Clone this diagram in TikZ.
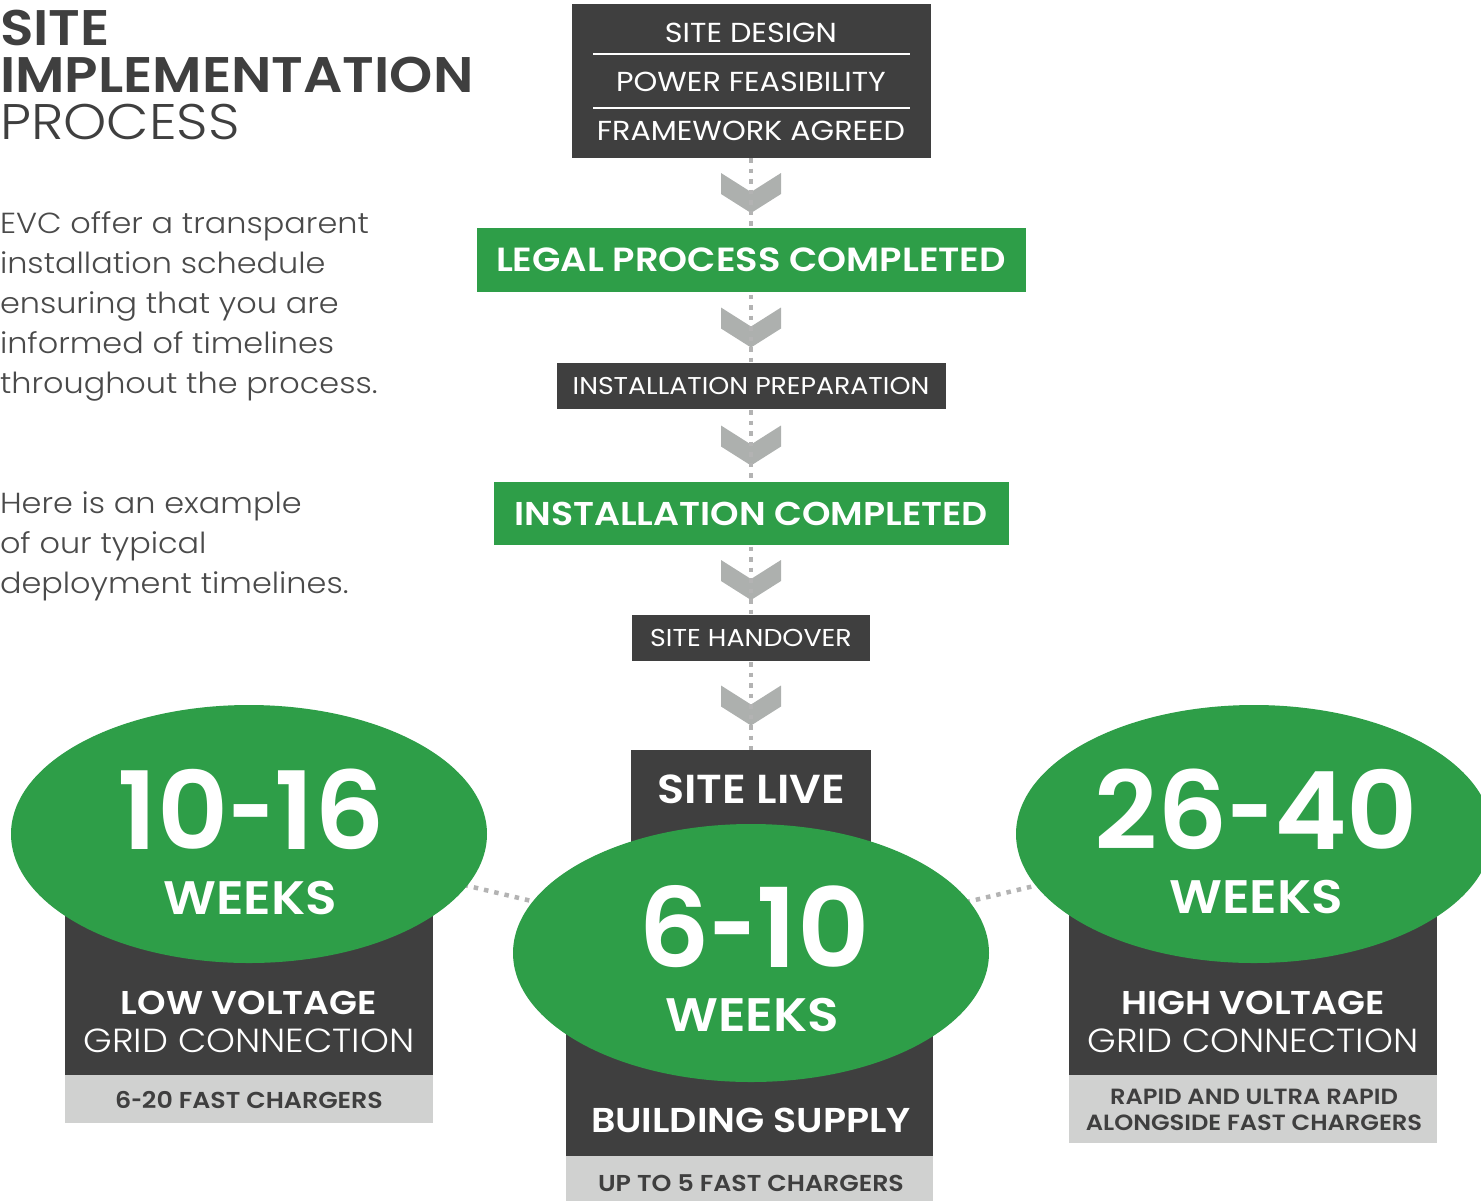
\documentclass[tikz,border=0pt]{standalone}
\usepackage{fontspec}
\setmainfont{Poppins}
\newfontfamily\preg{Poppins}[FakeStretch=1.1]
\newfontfamily\plight{Poppins Light}[FakeStretch=1.1]
\newfontfamily\psemi{Poppins SemiBold}[FakeStretch=1.1]
\newfontfamily\pnum{Poppins SemiBold}[FakeStretch=1.02]
\usetikzlibrary{shapes.geometric,calc,backgrounds}
\definecolor{dk}{HTML}{3F3F3F}
\definecolor{gn}{HTML}{2E9E48}
\definecolor{lg}{HTML}{D0D1D0}
\definecolor{chevc}{HTML}{ADB0AE}
\definecolor{dotc}{HTML}{B3B3B3}
\definecolor{para}{HTML}{4A4A4A}
\newcommand\fsz[1]{\fontsize{#1}{#1}\selectfont}
\newcommand\nh{\scalebox{0.72}[1]{-}}
\begin{document}
\begin{tikzpicture}[x=1pt,y=-1pt,
  box/.style={rectangle, inner sep=0pt, outer sep=0pt, draw=none},
  darkbox/.style={box, fill=dk, text=white},
  greenbox/.style={box, fill=gn, text=white},
  greybox/.style={box, fill=lg, text=dk},
  bigell/.style={ellipse, fill=gn, draw=none, minimum width=476pt, minimum height=258pt, inner sep=0pt, outer sep=0pt},
  lbl/.style={inner sep=0pt, outer sep=0pt, text=white},
  glbl/.style={inner sep=0pt, outer sep=0pt, text=dk, font=\psemi\fsz{23}},
  ttl/.style={anchor=base west, inner sep=0pt, outer sep=0pt, text=dk},
  ptxt/.style={anchor=base west, inner sep=0pt, outer sep=0pt, text=para, font=\plight\fsz{29}},
  dotline/.style={draw=dotc, line width=4.5pt, dash pattern=on 4.5pt off 6pt},
  chev/.pic={\fill[chevc] (-30,-20) -- (0,-1) -- (30,-20) -- (30,1) -- (0,20) -- (-30,1) -- cycle;}
]
\useasboundingbox (0,0) rectangle (1481,1200);

% left title and text
\node[ttl, font=\psemi\fsz{50}] (ti1) at (0,45) {SITE};
\node[ttl, font=\psemi\fsz{50}] (ti2) at (0,92) {IMPLEMENTATION};
\node[ttl, font=\plight\fsz{50}] (ti3) at (0,139) {PROCESS};
\node[ptxt] (p1) at (0,233) {EVC offer a transparent};
\node[ptxt] (p2) at (0,273) {installation schedule};
\node[ptxt] (p3) at (0,313) {ensuring that you are};
\node[ptxt] (p4) at (0,353) {informed of timelines};
\node[ptxt] (p5) at (0,393) {throughout the process.};
\node[ptxt] (q1) at (0,513) {Here is an example};
\node[ptxt] (q2) at (0,553) {of our typical};
\node[ptxt] (q3) at (0,593) {deployment timelines.};

% central flow
\node[darkbox, minimum width=359pt, minimum height=154pt] (top) at (751,81) {};
\node[lbl, font=\preg\fsz{27.5}] (t1) at (751,33) {SITE DESIGN};
\node[lbl, font=\preg\fsz{27.5}] (t2) at (751,82) {POWER FEASIBILITY};
\node[lbl, font=\preg\fsz{27.5}] (t3) at (751,130.5) {FRAMEWORK AGREED};
\draw[white, line width=2pt] (593,54) -- (910,54);
\draw[white, line width=2pt] (593,108) -- (910,108);

\node[greenbox, minimum width=549pt, minimum height=64pt, font=\psemi\fsz{33.5}] (legal) at (751,260) {LEGAL PROCESS COMPLETED};
\node[darkbox, minimum width=389pt, minimum height=46pt, font=\preg\fsz{24.3}] (prep) at (751,386) {INSTALLATION PREPARATION};
\node[greenbox, minimum width=515pt, minimum height=63pt, font=\psemi\fsz{33}] (done) at (751,513.5) {INSTALLATION COMPLETED};
\node[darkbox, minimum width=238pt, minimum height=46pt, font=\preg\fsz{24.4}] (hand) at (751,638) {SITE HANDOVER};
\node[darkbox, minimum width=240pt, minimum height=150pt] (live) at (751,825) {};
\node[lbl, font=\psemi\fsz{40.5}] (livet) at (751,789) {SITE LIVE};

% bottom boxes
\node[darkbox, minimum width=368pt, minimum height=195pt] (ldk) at (249,977.5) {};
\node[greybox, minimum width=368pt, minimum height=48pt] (lgr) at (249,1099) {};
\node[darkbox, minimum width=367pt, minimum height=156pt] (mdk) at (749.5,1078) {};
\node[greybox, minimum width=367pt, minimum height=54pt] (mgr) at (749.5,1183) {};
\node[darkbox, minimum width=368pt, minimum height=195pt] (rdk) at (1253,977.5) {};
\node[greybox, minimum width=368pt, minimum height=68pt] (rgr) at (1253,1109) {};

% ellipses
\node[bigell] (eL) at (249,834) {};
\node[bigell] (eM) at (751,953) {};
\node[bigell] (eR) at (1254,834) {};

% ellipse labels
\node[lbl, font=\pnum\fsz{108}] (nL) at (251,809) {10\nh16};
\node[lbl, font=\psemi\fsz{47}] (wL) at (250,898) {WEEKS};
\node[lbl, font=\pnum\fsz{110}] (nM) at (754,927) {6\nh10};
\node[lbl, font=\psemi\fsz{47}] (wM) at (752,1015) {WEEKS};
\node[lbl, font=\pnum\fsz{108}] (nR) at (1256,809) {26\nh40};
\node[lbl, font=\psemi\fsz{47}] (wR) at (1256,897) {WEEKS};

% box labels
\node[lbl, font=\psemi\fsz{33}] (lv1) at (249,1003) {LOW VOLTAGE};
\node[lbl, font=\plight\fsz{33.4}] (lv2) at (249,1041) {GRID CONNECTION};
\node[glbl] (lv3) at (249,1100) {6\nh20 FAST CHARGERS};
\node[lbl, font=\psemi\fsz{34.5}] (bs1) at (751,1120) {BUILDING SUPPLY};
\node[glbl] (bs2) at (751,1183) {UP TO 5 FAST CHARGERS};
\node[lbl, font=\psemi\fsz{33}] (hv1) at (1253,1003) {HIGH VOLTAGE};
\node[lbl, font=\plight\fsz{33.4}] (hv2) at (1253,1041) {GRID CONNECTION};
\node[glbl, font=\psemi\fsz{22}] (hv3) at (1254,1097) {RAPID AND ULTRA RAPID};
\node[glbl, font=\psemi\fsz{22}] (hv4) at (1254,1123) {ALONGSIDE FAST CHARGERS};

\begin{pgfonlayer}{background}
\foreach \a/\b in {top/legal, legal/prep, prep/done, done/hand, hand/live}
  \pic at ($(\a.south)!0.5!(\b.north)$) {chev};
\draw[dotline] (top.south) -- (live.north);
\draw[dotline] (eL.center) -- (eM.center);
\draw[dotline] (eM.center) -- (eR.center);
\end{pgfonlayer}
\end{tikzpicture}
\end{document}
